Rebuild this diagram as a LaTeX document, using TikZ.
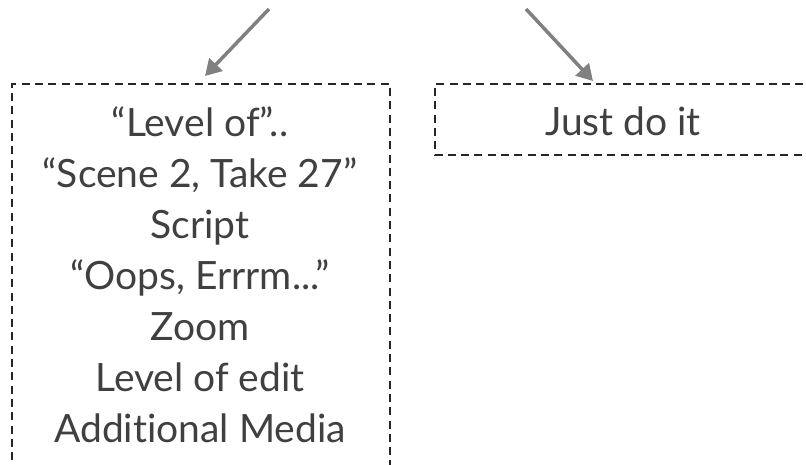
\documentclass[tikz,border=0pt]{standalone}
\usepackage{fontspec}
\setmainfont[Ligatures={NoCommon}]{Lato}
\usetikzlibrary{arrows.meta}
\definecolor{txt}{HTML}{404040}
\definecolor{arr}{HTML}{808080}
\tikzset{
  boxstyle/.style={draw=black!85, line width=1.7pt, dash pattern=on 8pt off 5.3pt},
  linetext/.style={anchor=base, text=txt, inner sep=0pt, font=\fontsize{39}{47}\selectfont},
  arrowstyle/.style={draw=arr, line width=3.5pt, -{Triangle[length=16pt,width=18pt]}}
}
\begin{document}
\begin{tikzpicture}[x=1pt,y=-1pt]
\useasboundingbox (0,0) rectangle (806,464);
\clip (0,0) rectangle (806,464);
\draw[boxstyle] (12,500) -- (12,84) -- (390,84) -- (390,500);
\draw[boxstyle] (830,84) -- (435,84) -- (435,155) -- (830,155);
\node[linetext] (l1) at (200,136) {“Level of”..};
\node[linetext] (l2) at (200,187) {“Scene 2, Take 27”};
\node[linetext] (l3) at (200,238) {Script};
\node[linetext] (l4) at (200,289) {“Oops, Errrm...”};
\node[linetext] (l5) at (200,340) {Zoom};
\node[linetext] (l6) at (200,391) {Level of edit};
\node[linetext] (l7) at (200,442) {Additional Media};
\node[linetext] (r1) at (623,135) {Just do it};
\coordinate (s1) at (269,9);
\coordinate (t1) at (205,76);
\coordinate (s2) at (526,9);
\coordinate (t2) at (593,81);
\draw[arrowstyle] (s1) -- (t1);
\draw[arrowstyle] (s2) -- (t2);
\end{tikzpicture}
\end{document}
